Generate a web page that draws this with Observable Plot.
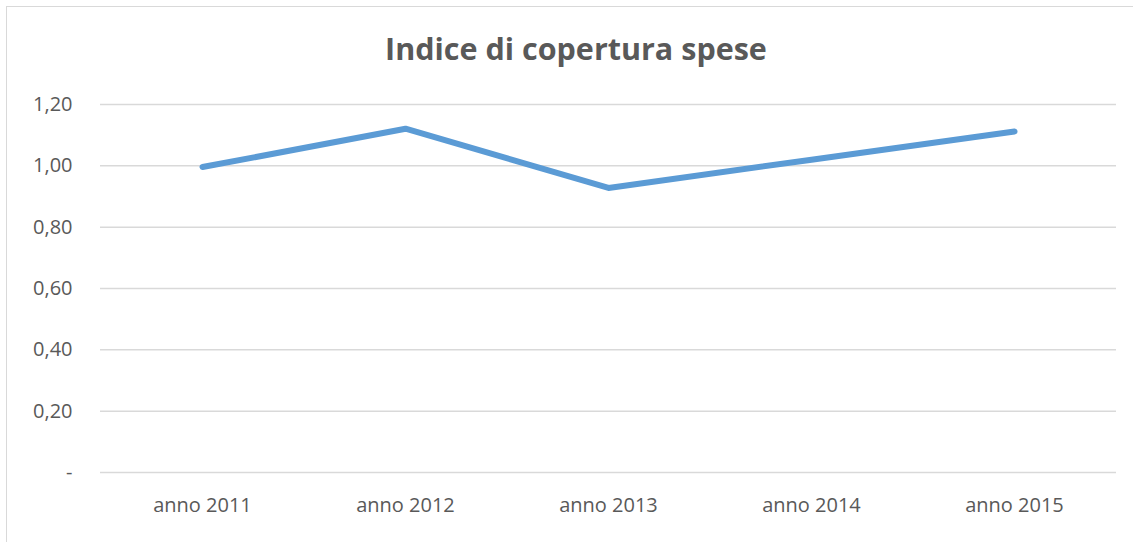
<!DOCTYPE html>
<html>
<head>
<meta charset="utf-8">
<script src="https://cdn.jsdelivr.net/npm/d3@7"></script>
<script src="https://cdn.jsdelivr.net/npm/@observablehq/plot@0.6"></script>
<style>
  html, body { margin: 0; padding: 0; background: #fff; overflow: hidden; width: 1133px; height: 542px; }
  #wrap { position: relative; width: 1133px; height: 542px; }
  #frame { position: absolute; left: 6px; top: 6px; width: 1150px; height: 560px; border: 1.5px solid #d9d9d9; box-sizing: border-box; pointer-events: none; }
  #title { position: absolute; left: 0; width: 1152px; top: 28px; text-align: center; font-family: "Open Sans", sans-serif; font-weight: bold; font-size: 30.5px; color: #595959; line-height: 40px; }
  #chart { position: absolute; left: 0; top: 0; }
</style>
</head>
<body>
<div id="wrap">
  <div id="chart"></div>
  <div id="frame"></div>
  <div id="title">Indice di copertura spese</div>
</div>
<script>
const categories = ["anno 2011", "anno 2012", "anno 2013", "anno 2014", "anno 2015"];
const values = [0.996, 1.121, 0.928, 1.020, 1.112];
const yTicks = [0, 0.2, 0.4, 0.6, 0.8, 1.0, 1.2];

const data = categories.map((c, i) => ({ category: c, value: values[i] }));
const fmt = v => v === 0 ? "-" : v.toFixed(2).replace(".", ",");

const chart = Plot.plot({
  width: 1133,
  height: 542,
  marginLeft: 100,
  marginRight: 17,
  marginTop: 104,
  marginBottom: 70,
  style: { fontFamily: "'Open Sans', sans-serif", fontSize: "20px", color: "#595959", background: "transparent" },
  x: { type: "point", domain: categories, padding: 0.5, label: null },
  y: { domain: [0, 1.2], label: null },
  marks: [
    Plot.gridY(yTicks, { stroke: "#d9d9d9", strokeOpacity: 1, strokeWidth: 1.5 }),
    Plot.axisY(yTicks, { tickSize: 0, tickPadding: 28, tickFormat: fmt, label: null, fill: "#595959" }),
    Plot.axisX(categories, { tickSize: 0, tickPadding: 25, label: null, fill: "#595959" }),
    Plot.line(data, { x: "category", y: "value", stroke: "#5b9bd5", strokeWidth: 6, strokeLinecap: "round", strokeLinejoin: "round" })
  ]
});
document.getElementById("chart").appendChild(chart);
</script>
</body>
</html>
